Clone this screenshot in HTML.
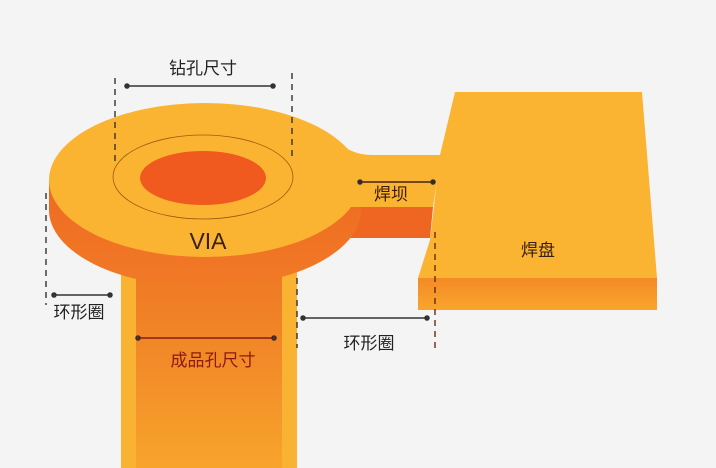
<!DOCTYPE html>
<html><head><meta charset="utf-8"><style>
html,body{margin:0;padding:0;background:#f4f4f5;}
svg{display:block}
text{font-family:"Liberation Sans","Noto Sans CJK SC",sans-serif;}
</style></head><body>
<svg width="716" height="468" viewBox="0 0 716 468" xmlns="http://www.w3.org/2000/svg">
<defs>
<linearGradient id="barrel" x1="0" y1="0" x2="0" y2="1">
<stop offset="0" stop-color="#ee7424"/><stop offset="0.5" stop-color="#f28a28"/><stop offset="1" stop-color="#f8a42c"/>
</linearGradient>
<linearGradient id="side" x1="0" y1="0" x2="0" y2="1">
<stop offset="0" stop-color="#ef6a22"/><stop offset="1" stop-color="#f07a26"/>
</linearGradient>
<linearGradient id="padside" x1="0" y1="0" x2="0" y2="1">
<stop offset="0" stop-color="#f48a25"/><stop offset="1" stop-color="#f9a52d"/>
</linearGradient>
</defs>
<rect width="716" height="468" fill="#f4f4f5"/>
<!-- barrel -->
<rect x="121" y="250" width="176" height="218" fill="#f9b231"/>
<rect x="136" y="250" width="146" height="218" fill="url(#barrel)"/>
<!-- pad -->
<polygon points="418,278 657,278 657,310 418,310" fill="url(#padside)"/>
<polygon points="455,92 642,92 657,278 418,278 430,240 440,155" fill="#fbb432"/>
<!-- trace side -->
<polygon points="330,207 433,207 430,238 320,238" fill="#ef6522"/>
<!-- via side -->
<path d="M49,180 L49,210 A156,77 0 0 0 361,210 L361,180 Z" fill="url(#side)"/>
<!-- trace top -->
<path d="M335,139 Q350,155 372,155 L441,155 L433,207 L335,207 Z" fill="#fbb432"/>
<!-- via top -->
<ellipse cx="205" cy="180" rx="156" ry="77" fill="#fbb432"/>
<ellipse cx="203" cy="177" rx="90" ry="42" fill="none" stroke="#9a5a10" stroke-width="0.8"/>
<ellipse cx="203" cy="178" rx="63" ry="27" fill="#f05a1e"/>
<text x="208" y="249" font-size="23" text-anchor="middle" fill="#3a2010">VIA</text>
<text x="538" y="256" font-size="17" text-anchor="middle" fill="#3a2010">焊盘</text>
<!-- dashed lines -->
<g stroke="#333" stroke-width="1.4" stroke-dasharray="6,5" fill="none">
<line x1="115" y1="78" x2="115" y2="165"/>
<line x1="292" y1="73" x2="292" y2="160"/>
<line x1="46" y1="193" x2="46" y2="305"/>
<line x1="297" y1="278" x2="297" y2="348"/>
<line x1="435" y1="232" x2="435" y2="350" stroke="#6a2a10"/>
</g>
<!-- arrows -->
<g stroke="#333" stroke-width="1.5" fill="#333">
<line x1="127" y1="86" x2="273" y2="86"/><circle cx="127" cy="86" r="2"/><circle cx="273" cy="86" r="2"/>
<line x1="54" y1="295" x2="110" y2="295"/><circle cx="54" cy="295" r="2"/><circle cx="110" cy="295" r="2"/>
<line x1="303" y1="318" x2="427" y2="318"/><circle cx="303" cy="318" r="2"/><circle cx="427" cy="318" r="2"/>
<line x1="360" y1="182" x2="433" y2="182" stroke="#4a2010"/><circle cx="360" cy="182" r="2" fill="#4a2010"/><circle cx="433" cy="182" r="2" fill="#4a2010"/>
<line x1="138" y1="338" x2="274" y2="338" stroke="#8a1a10"/><circle cx="138" cy="338" r="2" fill="#8a1a10"/><circle cx="274" cy="338" r="2" fill="#8a1a10"/>
</g>
<g font-size="17" fill="#222">
<text x="203" y="74" text-anchor="middle">钻孔尺寸</text>
<text x="79" y="318" text-anchor="middle">环形圈</text>
<text x="369" y="349" text-anchor="middle">环形圈</text>
<text x="391" y="200" text-anchor="middle" fill="#3a1a08">焊坝</text>
<text x="213" y="366" text-anchor="middle" fill="#8a1a10">成品孔尺寸</text>
</g>
</svg>
</body></html>
